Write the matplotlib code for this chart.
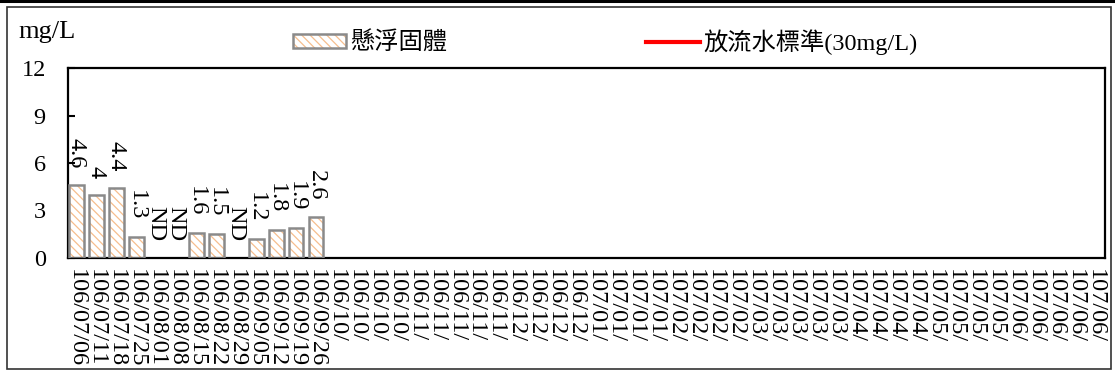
import matplotlib
matplotlib.use("Agg")
import matplotlib.pyplot as plt
from matplotlib.patches import Patch, Rectangle
from matplotlib.lines import Line2D
from matplotlib.legend_handler import HandlerTuple

plt.rcParams['font.family'] = ['Liberation Serif', 'Noto Sans CJK TC', 'DejaVu Sans']
plt.rcParams['hatch.color'] = '#F6BE8E'
plt.rcParams['hatch.linewidth'] = 0.9

# sampling dates (first 13 have data, rest are blank placeholders)
sample_dates = ["106/07/06", "106/07/11", "106/07/18", "106/07/25", "106/08/01",
                "106/08/08", "106/08/15", "106/08/22", "106/08/29", "106/09/05",
                "106/09/12", "106/09/19", "106/09/26"]
future_labels = (["106/10/"] * 4 + ["106/11/"] * 5 + ["106/12/"] * 4 +
                 ["107/01/"] * 4 + ["107/02/"] * 4 + ["107/03/"] * 5 +
                 ["107/04/"] * 4 + ["107/05/"] * 4 + ["107/06/"] * 5)
categories = sample_dates + future_labels

# suspended solids, None = ND
ss_values = [4.6, 4, 4.4, 1.3, None, None, 1.6, 1.5, None, 1.2, 1.8, 1.9, 2.6]
standard = 30
y_ticks = [0, 3, 6, 9, 12]

series_name = "懸浮固體"
standard_name = "放流水標準(30mg/L)"

FS = 17.5

fig = plt.figure(figsize=(11.15, 3.72), dpi=100)
ax = fig.add_axes([68 / 1115, 114 / 372, 1037 / 1115, 190 / 372])

xs = list(range(len(categories)))
bar_x = [i for i, v in enumerate(ss_values) if v is not None]
bar_h = [v for v in ss_values if v is not None]

# hatch layer, then gray outline on top
ax.bar(bar_x, bar_h, width=0.74, color='white', hatch='\\\\\\\\', linewidth=0, zorder=2)
ax.bar(bar_x, bar_h, width=0.74, fill=False, edgecolor='#8a8a8a', linewidth=1.8, zorder=3)

std_line, = ax.plot(xs, [standard] * len(xs), color='red', linewidth=3)

for i, v in enumerate(ss_values):
    label = "ND" if v is None else f"{v:g}"
    ax.annotate(label, (i, 0 if v is None else v), xytext=(0, 12),
                textcoords='offset points', rotation=-90,
                ha='center', va='bottom', fontsize=FS)

ax.set_xlim(-0.42, 51.5)
ax.set_ylim(0, 12)
ax.set_yticks(y_ticks)
ax.set_xticks(xs)
ax.set_xticklabels(categories, rotation=-90, fontsize=FS)
ax.tick_params(axis='y', direction='in', length=5, width=1.5, pad=16, labelsize=FS)
ax.tick_params(axis='x', length=0, pad=8)
for s in ax.spines.values():
    s.set_linewidth(1.6)

fig.text(18 / 1115, 1 - 32 / 372, "mg/L", fontsize=19, va='center', ha='left')

hatch_handle = (Patch(facecolor='white', hatch='\\\\\\\\', linewidth=0),
                Patch(fill=False, edgecolor='#8a8a8a', linewidth=1.8))
fig.legend([hatch_handle, std_line], [series_name, standard_name],
           handler_map={tuple: HandlerTuple(ndivide=1)},
           loc='center left', bbox_to_anchor=(293 / 1115, 1 - 42 / 372),
           ncol=2, frameon=False, fontsize=FS, borderpad=0, borderaxespad=0,
           handlelength=2.2, handleheight=0.5, handletextpad=0.15,
           columnspacing=8.2)

# outer frame and top rule
fig.patches.append(Rectangle((6.5 / 1115, 3.5 / 372), 1104 / 1115, 362 / 372,
                             transform=fig.transFigure, fill=False,
                             edgecolor='#333333', linewidth=1.2))
fig.add_artist(Line2D([0, 1], [1 - 1.2 / 372, 1 - 1.2 / 372],
                      transform=fig.transFigure, color='black', linewidth=2.2))

fig.savefig("out.png", dpi=100)
